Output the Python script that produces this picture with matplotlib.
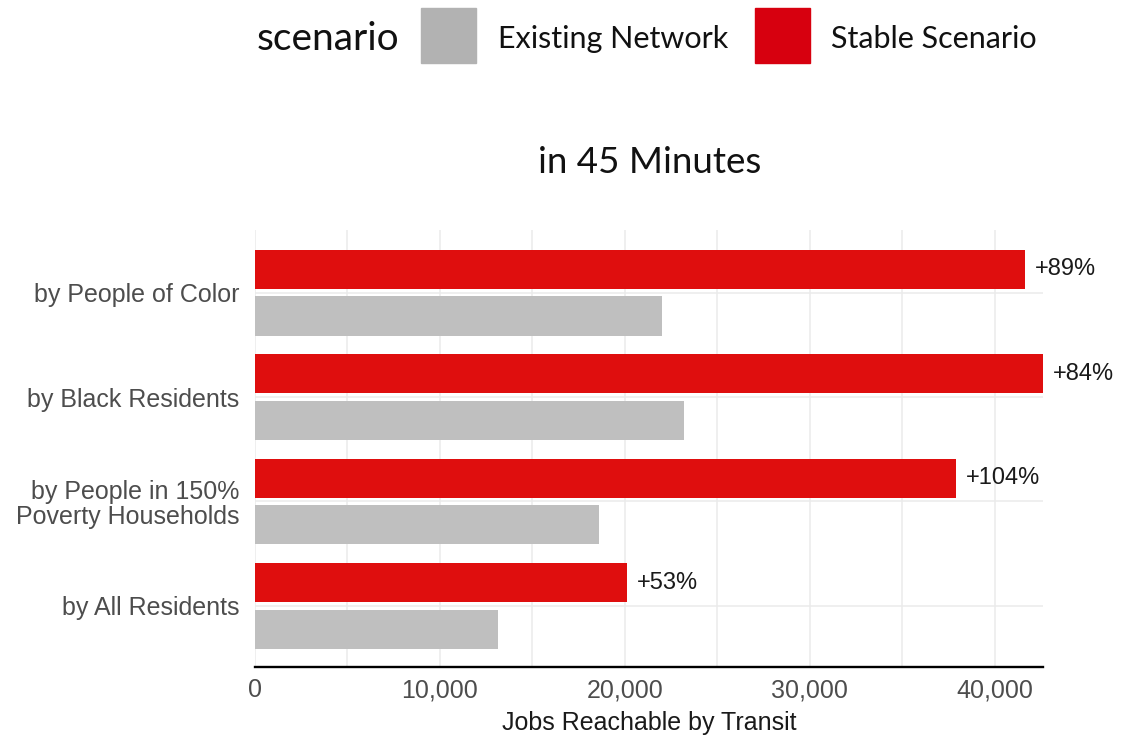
import matplotlib
matplotlib.use("Agg")
import matplotlib.pyplot as plt
from matplotlib.patches import Rectangle
import numpy as np

# Data
categories = ["by People of Color", "by Black Residents",
              "by People in 150%\nPoverty Households", "by All Residents"]
existing_network = [22000, 23200, 18600, 13150]
stable_scenario = [41600, 42600, 37900, 20100]
change_labels = ["+89%", "+84%", "+104%", "+53%"]
x_ticks = [0, 10000, 20000, 30000, 40000]
scenario_names = ["Existing Network", "Stable Scenario"]

W, H = 1142, 735
fig = plt.figure(figsize=(W / 100, H / 100), dpi=100)
fig.patch.set_facecolor("white")

def fx(px):
    return px / W

def fy(py):
    return 1 - py / H

# Plot panel
ax = fig.add_axes([fx(255), fy(667), fx(1043 - 255), (667 - 230) / H])
ax.set_facecolor("white")

bar_red = "#df0e0e"
bar_gray = "#bfbfbf"
key_red = "#d7000f"
key_gray = "#b2b2b2"
grid_col = "#ebebeb"
text_gray = "#4d4d4d"

n = len(categories)
ypos = np.arange(n)[::-1]
offset = 0.223
height = 0.375

for x in np.arange(0, 45000, 5000):
    ax.axvline(x, color=grid_col, lw=1.1, zorder=0)
for y in ypos:
    ax.axhline(y, color=grid_col, lw=1.1, zorder=0)

ax.barh(ypos + offset, stable_scenario, height=height, color=bar_red, zorder=2)
ax.barh(ypos - offset, existing_network, height=height, color=bar_gray, zorder=2)

for y, v, lab in zip(ypos, stable_scenario, change_labels):
    ax.text(v + 550, y + offset, lab, va="center", ha="left",
            fontsize=17, color="#1a1a1a", family="Liberation Sans", zorder=3)

ax.set_xlim(0, max(stable_scenario))
ax.set_ylim(-0.585, 3.6)

ax.set_xticks(x_ticks)
ax.set_xticklabels([f"{t:,}" for t in x_ticks], family="Liberation Sans",
                   fontsize=18, color=text_gray)
ax.set_yticks(ypos)
ax.set_yticklabels(categories, family="Liberation Sans", fontsize=18,
                   color=text_gray, linespacing=1.05)
ax.tick_params(axis="x", length=0, pad=8)
ax.tick_params(axis="y", length=0, pad=11)

for side in ["top", "right", "left"]:
    ax.spines[side].set_visible(False)
ax.spines["bottom"].set_color("black")
ax.spines["bottom"].set_linewidth(1.7)
ax.spines["bottom"].set_zorder(4)

ax.set_xlabel("Jobs Reachable by Transit", family="Liberation Sans",
              fontsize=18, color="#1a1a1a")
ax.xaxis.set_label_coords(0.5, -(711 - 667) / (667 - 230))

# Title
fig.text(fx(650), fy(173), "in 45 Minutes", ha="center", va="baseline",
         family="Lato", fontsize=26.5, color="#111111")

# Legend
fig.text(fx(257), fy(50), "scenario", ha="left", va="baseline",
         family="Lato", fontsize=28, color="#111111")
for (kx, tx), name, col in zip([(421, 498), (755, 831)], scenario_names,
                               [key_gray, key_red]):
    fig.add_artist(Rectangle((fx(kx), fy(63)), fx(55), 55 / H,
                             transform=fig.transFigure, color=col))
    fig.text(fx(tx), fy(48), name, ha="left", va="baseline",
             family="Lato", fontsize=22, color="#111111")

fig.savefig("out.png", dpi=100, facecolor="white")
